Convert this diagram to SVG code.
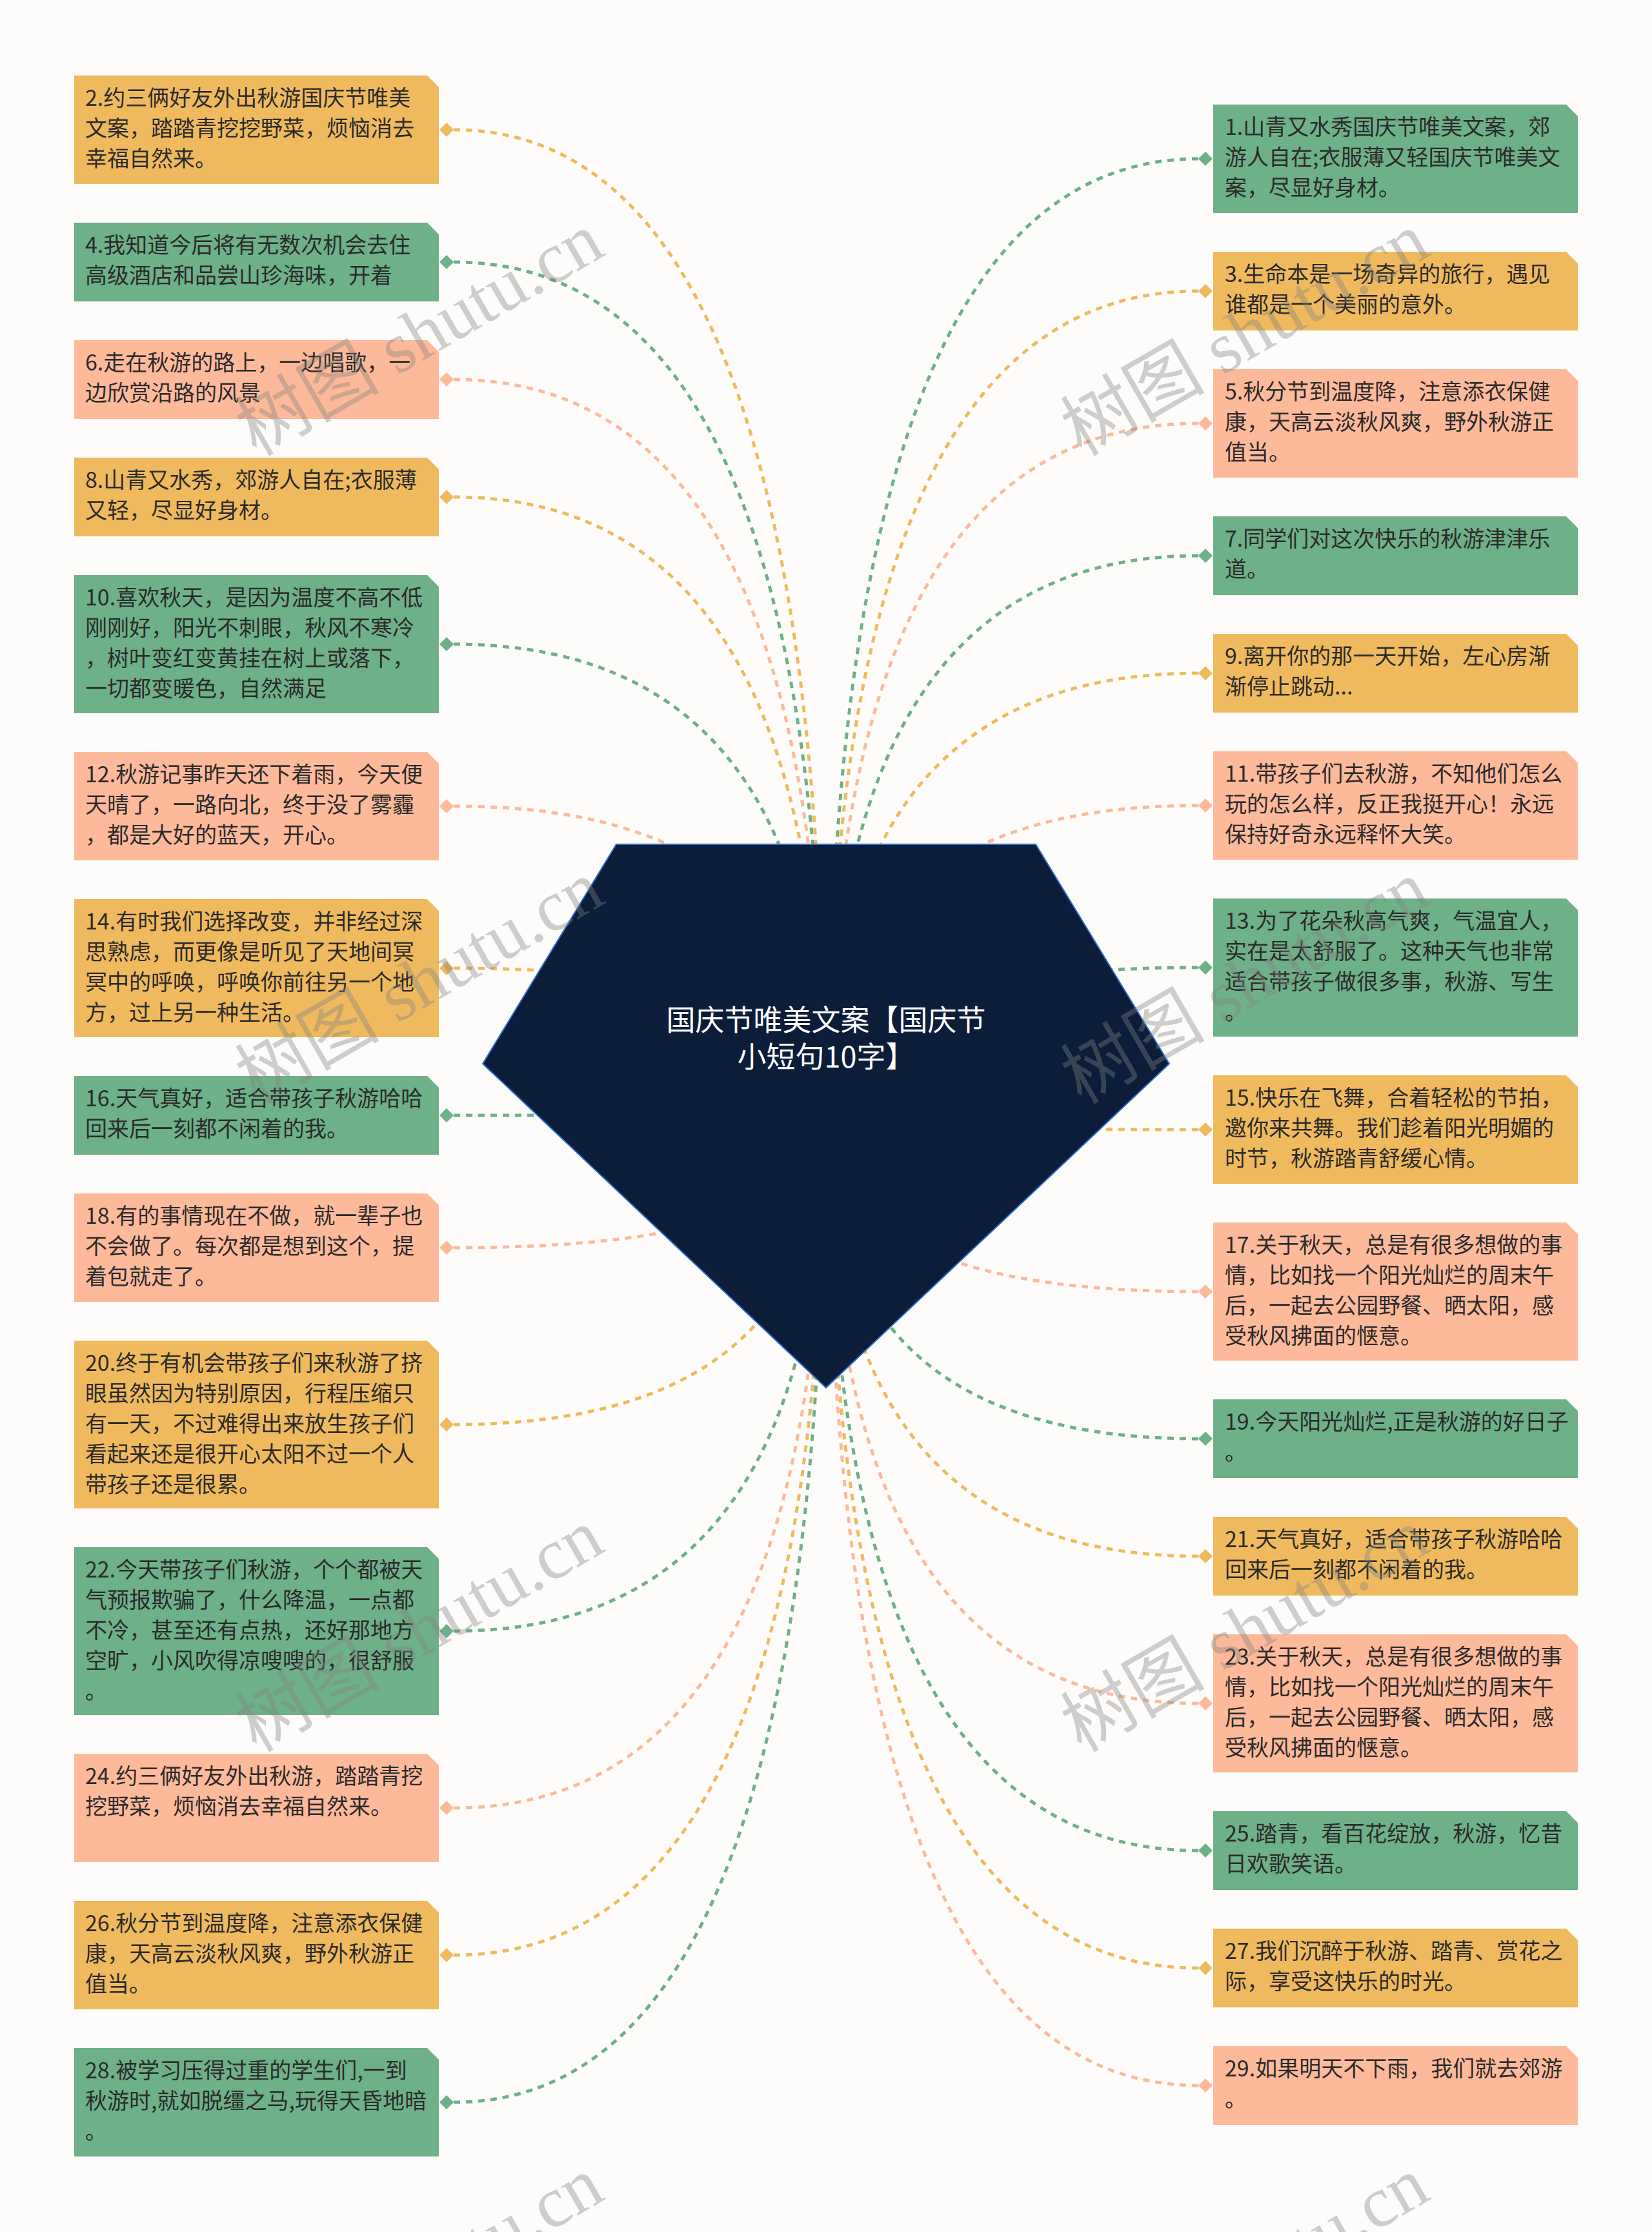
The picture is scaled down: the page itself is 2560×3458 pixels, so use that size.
<svg xmlns="http://www.w3.org/2000/svg" width="2560" height="3458" viewBox="0 0 2560 3458">
<style>
.y{fill:#EFBA5E}.g{fill:#6EB087}.p{fill:#FDBA9A}
.cy{stroke:#EFBA5E}.cg{stroke:#6EB087}.cp{stroke:#FDBA9A}
.c{fill:none;stroke-width:5;stroke-dasharray:10 9}
.t{font-family:"Noto Sans CJK SC","Noto Sans",sans-serif;font-size:34px;fill:#2B2B2B}
.ct{font-family:"Noto Sans CJK SC","Noto Sans",sans-serif;font-size:45px;fill:#FFFFFF;text-anchor:middle}
.wm{font-family:"Liberation Serif","Noto Sans CJK SC",serif;font-size:112px;fill:#808080;fill-opacity:0.38;text-anchor:middle}
</style>
<rect x="0" y="0" width="2560" height="3458" fill="#FDFCFB"/>
<g id="connectors">
<path class="c cy" d="M703,201 Q1277,201 1277,1730"/>
<path class="c cg" d="M703,406 Q1277,406 1277,1730"/>
<path class="c cp" d="M703,588 Q1277,588 1277,1730"/>
<path class="c cy" d="M703,770 Q1277,770 1277,1730"/>
<path class="c cg" d="M703,998 Q1277,998 1277,1730"/>
<path class="c cp" d="M703,1249 Q1277,1249 1277,1730"/>
<path class="c cy" d="M703,1500 Q1277,1500 1277,1730"/>
<path class="c cg" d="M703,1728 Q1277,1728 1277,1730"/>
<path class="c cp" d="M703,1933 Q1277,1933 1277,1730"/>
<path class="c cy" d="M703,2207 Q1277,2207 1277,1730"/>
<path class="c cg" d="M703,2527 Q1277,2527 1277,1730"/>
<path class="c cp" d="M703,2801 Q1277,2801 1277,1730"/>
<path class="c cy" d="M703,3029 Q1277,3029 1277,1730"/>
<path class="c cg" d="M703,3257 Q1277,3257 1277,1730"/>
<path class="c cg" d="M1857,246 Q1283,246 1283,1730"/>
<path class="c cy" d="M1857,451 Q1283,451 1283,1730"/>
<path class="c cp" d="M1857,656 Q1283,656 1283,1730"/>
<path class="c cg" d="M1857,861 Q1283,861 1283,1730"/>
<path class="c cy" d="M1857,1043 Q1283,1043 1283,1730"/>
<path class="c cp" d="M1857,1248 Q1283,1248 1283,1730"/>
<path class="c cg" d="M1857,1499 Q1283,1499 1283,1730"/>
<path class="c cy" d="M1857,1750 Q1283,1750 1283,1730"/>
<path class="c cp" d="M1857,2001 Q1283,2001 1283,1730"/>
<path class="c cg" d="M1857,2229 Q1283,2229 1283,1730"/>
<path class="c cy" d="M1857,2411 Q1283,2411 1283,1730"/>
<path class="c cp" d="M1857,2639 Q1283,2639 1283,1730"/>
<path class="c cg" d="M1857,2867 Q1283,2867 1283,1730"/>
<path class="c cy" d="M1857,3049 Q1283,3049 1283,1730"/>
<path class="c cp" d="M1857,3231 Q1283,3231 1283,1730"/>
</g>
<g id="center">
<polygon points="955,1308 1605,1308 1812,1648 1280,2150 748,1648" fill="#0C1D39" stroke="#2F6FD0" stroke-width="2"/>
<text class="ct"><tspan x="1280" y="1597">国庆节唯美文案【国庆节</tspan><tspan x="1280" y="1654">小短句10字】</tspan></text>
</g>
<g id="n2"><path class="y" d="M115,117 H662 L680,135 V285 H115 Z"/><polygon class="y" points="681,201 692,190 703,201 692,212"/><text class="t"><tspan x="132" y="164">2.约三俩好友外出秋游国庆节唯美</tspan><tspan x="132" y="211">文案，踏踏青挖挖野菜，烦恼消去</tspan><tspan x="132" y="258">幸福自然来。</tspan></text></g>
<g id="n4"><path class="g" d="M115,345 H662 L680,363 V467 H115 Z"/><polygon class="g" points="681,406 692,395 703,406 692,417"/><text class="t"><tspan x="132" y="392">4.我知道今后将有无数次机会去住</tspan><tspan x="132" y="439">高级酒店和品尝山珍海味，开着</tspan></text></g>
<g id="n6"><path class="p" d="M115,527 H662 L680,545 V649 H115 Z"/><polygon class="p" points="681,588 692,577 703,588 692,599"/><text class="t"><tspan x="132" y="574">6.走在秋游的路上，一边唱歌，一</tspan><tspan x="132" y="621">边欣赏沿路的风景</tspan></text></g>
<g id="n8"><path class="y" d="M115,709 H662 L680,727 V831 H115 Z"/><polygon class="y" points="681,770 692,759 703,770 692,781"/><text class="t"><tspan x="132" y="756">8.山青又水秀，郊游人自在;衣服薄</tspan><tspan x="132" y="803">又轻，尽显好身材。</tspan></text></g>
<g id="n10"><path class="g" d="M115,891 H662 L680,909 V1105 H115 Z"/><polygon class="g" points="681,998 692,987 703,998 692,1009"/><text class="t"><tspan x="132" y="938">10.喜欢秋天，是因为温度不高不低</tspan><tspan x="132" y="985">刚刚好，阳光不刺眼，秋风不寒冷</tspan><tspan x="132" y="1032">，树叶变红变黄挂在树上或落下，</tspan><tspan x="132" y="1079">一切都变暖色，自然满足</tspan></text></g>
<g id="n12"><path class="p" d="M115,1165 H662 L680,1183 V1333 H115 Z"/><polygon class="p" points="681,1249 692,1238 703,1249 692,1260"/><text class="t"><tspan x="132" y="1212">12.秋游记事昨天还下着雨，今天便</tspan><tspan x="132" y="1259">天晴了，一路向北，终于没了雾霾</tspan><tspan x="132" y="1306">，都是大好的蓝天，开心。</tspan></text></g>
<g id="n14"><path class="y" d="M115,1393 H662 L680,1411 V1607 H115 Z"/><polygon class="y" points="681,1500 692,1489 703,1500 692,1511"/><text class="t"><tspan x="132" y="1440">14.有时我们选择改变，并非经过深</tspan><tspan x="132" y="1487">思熟虑，而更像是听见了天地间冥</tspan><tspan x="132" y="1534">冥中的呼唤，呼唤你前往另一个地</tspan><tspan x="132" y="1581">方，过上另一种生活。</tspan></text></g>
<g id="n16"><path class="g" d="M115,1667 H662 L680,1685 V1789 H115 Z"/><polygon class="g" points="681,1728 692,1717 703,1728 692,1739"/><text class="t"><tspan x="132" y="1714">16.天气真好，适合带孩子秋游哈哈</tspan><tspan x="132" y="1761">回来后一刻都不闲着的我。</tspan></text></g>
<g id="n18"><path class="p" d="M115,1849 H662 L680,1867 V2017 H115 Z"/><polygon class="p" points="681,1933 692,1922 703,1933 692,1944"/><text class="t"><tspan x="132" y="1896">18.有的事情现在不做，就一辈子也</tspan><tspan x="132" y="1943">不会做了。每次都是想到这个，提</tspan><tspan x="132" y="1990">着包就走了。</tspan></text></g>
<g id="n20"><path class="y" d="M115,2077 H662 L680,2095 V2337 H115 Z"/><polygon class="y" points="681,2207 692,2196 703,2207 692,2218"/><text class="t"><tspan x="132" y="2124">20.终于有机会带孩子们来秋游了挤</tspan><tspan x="132" y="2171">眼虽然因为特别原因，行程压缩只</tspan><tspan x="132" y="2218">有一天，不过难得出来放生孩子们</tspan><tspan x="132" y="2265">看起来还是很开心太阳不过一个人</tspan><tspan x="132" y="2312">带孩子还是很累。</tspan></text></g>
<g id="n22"><path class="g" d="M115,2397 H662 L680,2415 V2657 H115 Z"/><polygon class="g" points="681,2527 692,2516 703,2527 692,2538"/><text class="t"><tspan x="132" y="2444">22.今天带孩子们秋游，个个都被天</tspan><tspan x="132" y="2491">气预报欺骗了，什么降温，一点都</tspan><tspan x="132" y="2538">不冷，甚至还有点热，还好那地方</tspan><tspan x="132" y="2585">空旷，小风吹得凉嗖嗖的，很舒服</tspan><tspan x="132" y="2632">。</tspan></text></g>
<g id="n24"><path class="p" d="M115,2717 H662 L680,2735 V2885 H115 Z"/><polygon class="p" points="681,2801 692,2790 703,2801 692,2812"/><text class="t"><tspan x="132" y="2764">24.约三俩好友外出秋游，踏踏青挖</tspan><tspan x="132" y="2811">挖野菜，烦恼消去幸福自然来。</tspan></text></g>
<g id="n26"><path class="y" d="M115,2945 H662 L680,2963 V3113 H115 Z"/><polygon class="y" points="681,3029 692,3018 703,3029 692,3040"/><text class="t"><tspan x="132" y="2992">26.秋分节到温度降，注意添衣保健</tspan><tspan x="132" y="3039">康，天高云淡秋风爽，野外秋游正</tspan><tspan x="132" y="3086">值当。</tspan></text></g>
<g id="n28"><path class="g" d="M115,3173 H662 L680,3191 V3341 H115 Z"/><polygon class="g" points="681,3257 692,3246 703,3257 692,3268"/><text class="t"><tspan x="132" y="3220">28.被学习压得过重的学生们,一到</tspan><tspan x="132" y="3267">秋游时,就如脱缰之马,玩得天昏地暗</tspan><tspan x="132" y="3314">。</tspan></text></g>
<g id="n1"><path class="g" d="M1880,162 H2427 L2445,180 V330 H1880 Z"/><polygon class="g" points="1857,246 1868,235 1879,246 1868,257"/><text class="t"><tspan x="1898" y="209">1.山青又水秀国庆节唯美文案，郊</tspan><tspan x="1898" y="256">游人自在;衣服薄又轻国庆节唯美文</tspan><tspan x="1898" y="303">案，尽显好身材。</tspan></text></g>
<g id="n3"><path class="y" d="M1880,390 H2427 L2445,408 V512 H1880 Z"/><polygon class="y" points="1857,451 1868,440 1879,451 1868,462"/><text class="t"><tspan x="1898" y="437">3.生命本是一场奇异的旅行，遇见</tspan><tspan x="1898" y="484">谁都是一个美丽的意外。</tspan></text></g>
<g id="n5"><path class="p" d="M1880,572 H2427 L2445,590 V740 H1880 Z"/><polygon class="p" points="1857,656 1868,645 1879,656 1868,667"/><text class="t"><tspan x="1898" y="619">5.秋分节到温度降，注意添衣保健</tspan><tspan x="1898" y="666">康，天高云淡秋风爽，野外秋游正</tspan><tspan x="1898" y="713">值当。</tspan></text></g>
<g id="n7"><path class="g" d="M1880,800 H2427 L2445,818 V922 H1880 Z"/><polygon class="g" points="1857,861 1868,850 1879,861 1868,872"/><text class="t"><tspan x="1898" y="847">7.同学们对这次快乐的秋游津津乐</tspan><tspan x="1898" y="894">道。</tspan></text></g>
<g id="n9"><path class="y" d="M1880,982 H2427 L2445,1000 V1104 H1880 Z"/><polygon class="y" points="1857,1043 1868,1032 1879,1043 1868,1054"/><text class="t"><tspan x="1898" y="1029">9.离开你的那一天开始，左心房渐</tspan><tspan x="1898" y="1076">渐停止跳动...</tspan></text></g>
<g id="n11"><path class="p" d="M1880,1164 H2427 L2445,1182 V1332 H1880 Z"/><polygon class="p" points="1857,1248 1868,1237 1879,1248 1868,1259"/><text class="t"><tspan x="1898" y="1211">11.带孩子们去秋游，不知他们怎么</tspan><tspan x="1898" y="1258">玩的怎么样，反正我挺开心！永远</tspan><tspan x="1898" y="1305">保持好奇永远释怀大笑。</tspan></text></g>
<g id="n13"><path class="g" d="M1880,1392 H2427 L2445,1410 V1606 H1880 Z"/><polygon class="g" points="1857,1499 1868,1488 1879,1499 1868,1510"/><text class="t"><tspan x="1898" y="1439">13.为了花朵秋高气爽，气温宜人，</tspan><tspan x="1898" y="1486">实在是太舒服了。这种天气也非常</tspan><tspan x="1898" y="1533">适合带孩子做很多事，秋游、写生</tspan><tspan x="1898" y="1580">。</tspan></text></g>
<g id="n15"><path class="y" d="M1880,1666 H2427 L2445,1684 V1834 H1880 Z"/><polygon class="y" points="1857,1750 1868,1739 1879,1750 1868,1761"/><text class="t"><tspan x="1898" y="1713">15.快乐在飞舞，合着轻松的节拍，</tspan><tspan x="1898" y="1760">邀你来共舞。我们趁着阳光明媚的</tspan><tspan x="1898" y="1807">时节，秋游踏青舒缓心情。</tspan></text></g>
<g id="n17"><path class="p" d="M1880,1894 H2427 L2445,1912 V2108 H1880 Z"/><polygon class="p" points="1857,2001 1868,1990 1879,2001 1868,2012"/><text class="t"><tspan x="1898" y="1941">17.关于秋天，总是有很多想做的事</tspan><tspan x="1898" y="1988">情，比如找一个阳光灿烂的周末午</tspan><tspan x="1898" y="2035">后，一起去公园野餐、晒太阳，感</tspan><tspan x="1898" y="2082">受秋风拂面的惬意。</tspan></text></g>
<g id="n19"><path class="g" d="M1880,2168 H2427 L2445,2186 V2290 H1880 Z"/><polygon class="g" points="1857,2229 1868,2218 1879,2229 1868,2240"/><text class="t"><tspan x="1898" y="2215">19.今天阳光灿烂,正是秋游的好日子</tspan><tspan x="1898" y="2262">。</tspan></text></g>
<g id="n21"><path class="y" d="M1880,2350 H2427 L2445,2368 V2472 H1880 Z"/><polygon class="y" points="1857,2411 1868,2400 1879,2411 1868,2422"/><text class="t"><tspan x="1898" y="2397">21.天气真好，适合带孩子秋游哈哈</tspan><tspan x="1898" y="2444">回来后一刻都不闲着的我。</tspan></text></g>
<g id="n23"><path class="p" d="M1880,2532 H2427 L2445,2550 V2746 H1880 Z"/><polygon class="p" points="1857,2639 1868,2628 1879,2639 1868,2650"/><text class="t"><tspan x="1898" y="2579">23.关于秋天，总是有很多想做的事</tspan><tspan x="1898" y="2626">情，比如找一个阳光灿烂的周末午</tspan><tspan x="1898" y="2673">后，一起去公园野餐、晒太阳，感</tspan><tspan x="1898" y="2720">受秋风拂面的惬意。</tspan></text></g>
<g id="n25"><path class="g" d="M1880,2806 H2427 L2445,2824 V2928 H1880 Z"/><polygon class="g" points="1857,2867 1868,2856 1879,2867 1868,2878"/><text class="t"><tspan x="1898" y="2853">25.踏青，看百花绽放，秋游，忆昔</tspan><tspan x="1898" y="2900">日欢歌笑语。</tspan></text></g>
<g id="n27"><path class="y" d="M1880,2988 H2427 L2445,3006 V3110 H1880 Z"/><polygon class="y" points="1857,3049 1868,3038 1879,3049 1868,3060"/><text class="t"><tspan x="1898" y="3035">27.我们沉醉于秋游、踏青、赏花之</tspan><tspan x="1898" y="3082">际，享受这快乐的时光。</tspan></text></g>
<g id="n29"><path class="p" d="M1880,3170 H2427 L2445,3188 V3292 H1880 Z"/><polygon class="p" points="1857,3231 1868,3220 1879,3231 1868,3242"/><text class="t"><tspan x="1898" y="3217">29.如果明天不下雨，我们就去郊游</tspan><tspan x="1898" y="3264">。</tspan></text></g>
<g id="watermark">
<text class="wm" transform="rotate(-30 650 518)" x="650" y="556">树图 shutu.cn</text>
<text class="wm" transform="rotate(-30 1929 518)" x="1929" y="556">树图 shutu.cn</text>
<text class="wm" transform="rotate(-30 650 1522)" x="650" y="1560">树图 shutu.cn</text>
<text class="wm" transform="rotate(-30 1929 1522)" x="1929" y="1560">树图 shutu.cn</text>
<text class="wm" transform="rotate(-30 650 2526)" x="650" y="2564">树图 shutu.cn</text>
<text class="wm" transform="rotate(-30 1929 2526)" x="1929" y="2564">树图 shutu.cn</text>
<text class="wm" transform="rotate(-30 650 3530)" x="650" y="3568">树图 shutu.cn</text>
<text class="wm" transform="rotate(-30 1929 3530)" x="1929" y="3568">树图 shutu.cn</text>
</g>
</svg>
